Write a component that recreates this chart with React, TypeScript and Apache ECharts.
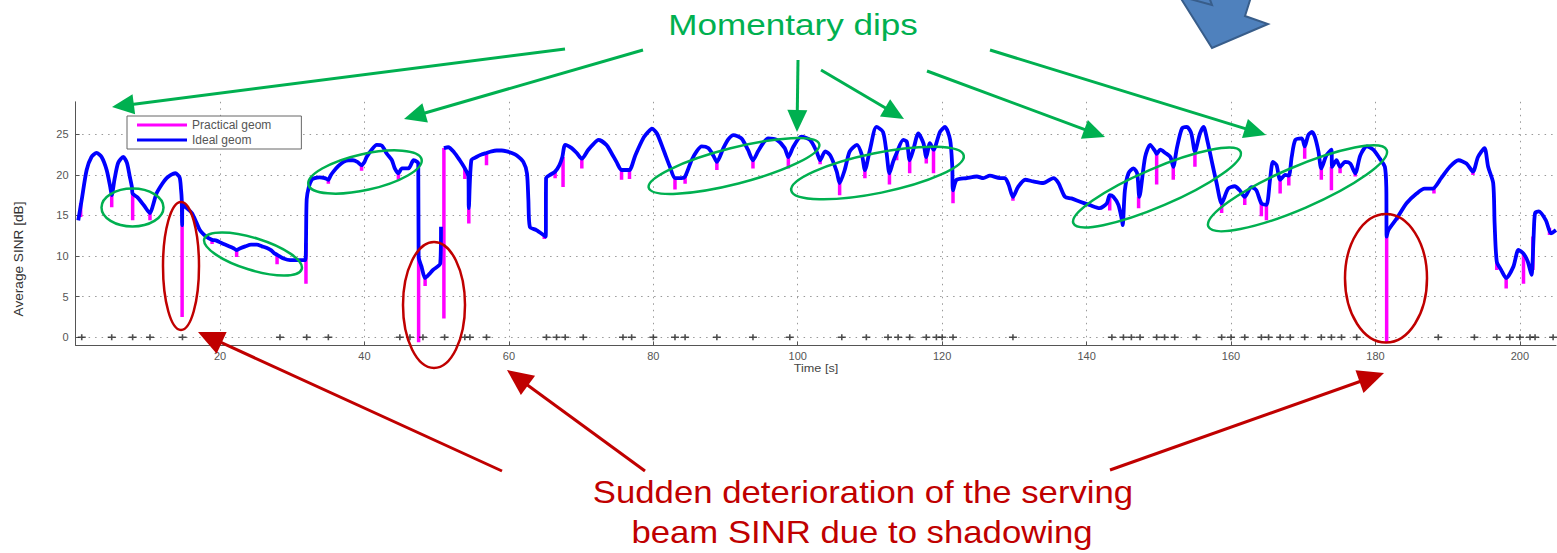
import React, { useEffect, useRef } from "react";
import * as echarts from "echarts";

// ---- Data ----
const xTickValues = [20, 40, 60, 80, 100, 120, 140, 160, 180, 200];
const yTickValues = [0, 5, 10, 15, 20, 25];

// Ideal geom SINR trace, time [s] / SINR [dB]
const idealSeg1: [number, number][] = [
  [0.37,14.4],[0.84,16.9],[1.53,20.6],[2.2,22.2],[2.9,22.7],[3.6,22.2],[4.3,20.6],[4.8,18.5],[5.0,17.5],[5.4,19.5],[5.9,21.5],[6.6,22.2],[7.1,21.5],[7.5,19.8],[7.8,18.5],[7.9,17.7],[8.6,17.2],[9.5,16.2],[10.3,15.3],[10.7,16.2],[11.2,17.7],[12.0,18.9],[12.6,19.6],[13.2,20.0],[13.8,20.2],[14.4,19.7],[14.6,18.2],[14.7,16.9],[14.75,13.8],[14.8,16.4],[15.4,15.9],[16.1,15.3],[16.7,14.2],[17.2,13.2],[17.8,12.6],[18.4,12.2],[18.9,12.0],[19.5,11.9],[20.2,11.6],[21.0,11.3],[21.8,11.0],[22.3,10.75],[22.9,11.0],[23.5,11.2],[24.3,11.4],[25.1,11.4],[25.8,11.2],[26.5,11.0],[27.1,10.7],[27.6,10.3],[28.2,10.0],[28.8,9.7],[29.7,9.5],[30.5,9.5],[31.3,9.5],[31.8,9.5],[31.9,11.6],[32.0,17.0],[32.3,18.5],[32.7,19.4],[33.1,19.6],[33.8,19.7],[34.5,19.6],[35.0,19.4],[35.3,19.9],[35.7,20.4],[36.4,21.1],[37.1,21.6],[37.8,21.8],[38.4,21.8],[39.0,21.6],[39.6,21.2],[40.0,21.6],[40.3,22.2],[41.0,23.1],[41.7,23.7],[42.4,23.6],[43.1,22.6],[43.8,21.8],[44.2,20.8],[44.7,20.2],[45.2,20.8],[46.1,20.8],[46.8,21.8],[47.3,21.6],[47.45,21.4],[47.5,9.9],[47.9,8.7],[48.4,7.3],[49.0,7.8],[49.5,8.3],[50.5,9.1],[50.6,13.6]
];
const idealSeg2: [number, number][] = [
  [51.0,23.3],[51.6,23.4],[52.4,22.8],[53.2,21.8],[53.9,20.8],[54.4,19.8],[54.45,15.9],[54.8,21.8],[55.5,22.2],[56.2,22.5],[56.9,22.7],[57.6,22.9],[58.3,23.0],[59.0,23.0],[59.7,22.9],[60.4,22.7],[61.1,22.4],[62.0,21.6],[62.5,20.2],[62.7,16.9],[62.9,13.6],[63.8,13.2],[64.8,12.6],[65.1,12.4],[65.15,19.6],[65.7,20.0],[66.4,20.4],[67.0,21.2],[67.4,22.2],[67.8,23.7],[68.7,23.3],[69.4,22.7],[70.1,22.0],[71.0,23.1],[71.7,23.8],[72.4,24.3],[73.5,23.7],[74.2,22.7],[74.9,21.6],[75.6,20.6],[76.3,20.6],[76.7,20.6],[77.5,22.4],[78.6,24.5],[79.3,25.3],[79.8,25.7],[80.5,25.1],[81.4,23.1],[82.3,21.0],[83.0,19.6],[83.9,19.6],[84.4,19.8],[85.3,21.8],[86.0,22.9],[86.7,23.5],[87.6,23.3],[88.3,22.4],[88.8,21.6],[89.7,23.3],[90.4,24.4],[91.1,24.9],[92.2,24.5],[93.1,23.1],[93.8,21.8],[94.5,22.9],[95.2,23.9],[95.9,24.5],[97.1,24.3],[98.2,23.3],[98.7,22.2],[99.4,23.5]
];
const idealSeg3: [number, number][] = [
  [100.5,24.7],[101.7,24.3],[102.6,22.9],[103.1,21.8],[103.8,22.9],[104.5,22.4],[105.4,20.4],[105.8,19.0],[106.5,20.6],[107.2,22.9],[108.2,23.7],[108.9,22.4],[109.3,20.6],[110.0,23.1],[110.9,25.9],[111.8,25.3],[112.3,22.7],[112.7,20.2],[113.2,21.6],[113.7,22.7],[114.6,24.3],[115.1,24.1],[115.5,21.8],[116.0,23.1],[116.7,25.1],[117.4,23.9],[117.8,22.2],[118.3,23.9],[118.8,23.1],[119.7,25.3],[120.4,25.9],[121.1,24.3],[121.4,21.0],[121.5,18.1],[122.0,19.4],[123.4,19.6],[124.8,19.8],[125.7,19.6],[126.6,19.9],[128.0,19.6],[128.7,19.6],[129.2,18.8],[129.8,17.3],[130.5,18.5],[131.5,19.4],[132.6,19.2],[134.0,19.0],[135.4,19.6],[136.1,19.0],[137.0,17.3],[137.9,17.1],[139.1,16.7],[140.4,16.3],[141.8,15.9],[142.8,16.5],[143.2,17.5],[143.7,17.3],[144.4,16.3],[144.9,14.4],[145.0,13.8],[145.3,18.1],[145.8,20.2],[146.5,20.8],[147.0,20.2],[147.3,17.3],[148.1,22.2],[148.8,23.7],[149.5,22.9]
];
const idealSeg4: [number, number][] = [
  [149.7,22.6],[150.2,23.1],[150.9,22.7],[151.6,22.2],[152.0,21.0],[152.5,23.3],[153.2,25.7],[153.9,25.9],[154.5,25.1],[155.0,22.9],[155.7,25.1],[156.2,25.9],[156.7,24.3],[157.4,21.4],[158.0,19.0],[158.7,16.5],[159.6,18.3],[160.5,18.6],[161.2,18.1],[161.9,17.3],[162.8,18.5],[163.5,18.1],[164.2,16.5],[164.9,16.3],[165.4,19.4],[165.8,21.6],[166.3,21.2],[166.8,19.4],[167.5,20.0],[168.0,19.9],[168.4,22.2],[168.9,24.3],[169.8,24.5],[170.2,23.5],[170.7,24.9],[171.2,25.3],[171.6,24.7],[172.1,22.9],[172.5,20.8],[173.2,22.4],[173.9,23.1],[174.0,21.0],[174.6,21.8],[175.1,21.0],[175.8,21.6],[176.5,21.4],[177.2,20.2],[177.9,22.4],[178.8,23.5],[179.7,23.1],[180.6,22.0],[181.3,21.0],[181.5,18.5],[181.55,12.4],[181.8,13.2],[183.0,14.7],[184.3,16.5],[185.7,17.7],[186.8,18.3],[187.9,18.3],[189.1,19.6],[190.3,21.0],[191.5,21.8],[192.6,21.4],[193.5,20.4],[194.2,22.2],[195.1,23.3],[195.6,21.0],[196.3,19.0],[196.5,14.0],[196.8,9.3],[197.4,8.3],[198.1,7.3],[199.1,8.7],[199.8,10.75],[200.5,10.3],[201.1,9.3],[201.6,7.7],[201.9,12.4],[202.1,15.3],[202.6,15.5],[203.6,14.4],[204.3,12.8],[205,13.2]
];

// Practical geom: dips below the ideal trace [time, from dB, down to dB]
const practicalDips: [number, number, number][] = [
  [0.7,16.5,14.8],[5.0,17.5,16.0],[7.9,17.7,14.4],[10.3,15.4,14.4],[14.75,13.8,2.5],[18.9,12.0,11.5],[22.3,10.75,9.9],[27.9,10.2,9.0],[31.9,11.6,6.6],[35.0,19.4,18.9],[39.6,21.2,20.5],[44.7,20.2,19.4],[47.5,9.9,-0.6],[48.4,7.3,6.3],[51.0,23.3,2.3],[53.9,20.8,19.5],[54.45,15.9,14.0],[56.9,22.7,21.2],[64.9,12.6,12.1],[66.4,20.4,19.6],[67.5,22.2,18.5],[70.1,22.0,20.8],[75.6,20.6,19.4],[76.7,20.6,19.5],[83.0,19.6,18.2],[84.4,19.8,18.9],[88.8,21.6,20.6],[93.8,21.8,20.8],[98.7,22.2,20.8],[103.1,21.8,21.3],[105.8,19.0,17.5],[109.3,20.6,19.6],[112.7,20.2,18.8],[113.7,22.7,21.8],[115.5,21.8,20.2],[117.8,22.2,21.4],[118.8,23.1,20.2],[121.5,18.1,16.5],[129.8,17.3,16.8],[143.2,17.5,15.6],[147.2,17.3,15.9],[149.7,22.6,18.8],[152.0,21.0,19.4],[155.0,22.9,21.0],[158.7,16.5,15.3],[161.9,17.3,16.3],[164.2,16.5,14.9],[164.9,16.3,14.4],[166.8,19.4,17.7],[168.0,19.9,18.7],[170.2,23.5,22.0],[172.5,20.8,19.4],[173.9,21.0,18.1],[175.1,21.0,20.2],[177.2,20.2,19.8],[181.55,12.4,-0.6],[183.0,14.9,14.4],[188.1,18.3,17.7],[193.5,20.4,20.0],[196.8,9.3,8.3],[198.1,7.3,6.0],[200.5,10.3,6.6],[201.8,12.4,8.3],[204.1,13.5,12.6]
];

// Beam switch events drawn as "+" on the 0 dB line
const beamSwitchTimes = [0.85,5.0,7.9,10.3,14.8,28.3,32.0,35.0,44.9,46.3,48.1,51.1,53.9,54.6,56.9,65.2,66.6,67.8,70.3,75.8,77.0,80.0,83.0,84.4,88.8,93.8,98.9,106.1,109.5,112.5,113.9,115.5,117.8,119.2,120.0,121.5,129.8,143.5,145.1,146.2,147.4,149.7,150.8,152.2,155.2,158.7,160.0,161.9,164.2,165.2,166.8,168.2,170.2,172.5,173.9,175.3,177.4,188.7,193.7,196.8,198.6,200.0,201.4,202.1,204.6];

const GREEN = "#00b050";
const RED = "#c00000";
const FONT = "Liberation Sans";

function arrow(x1: number, y1: number, x2: number, y2: number, color: string, lw: number, hl: number, hw: number) {
  const dx = x2 - x1, dy = y2 - y1;
  const L = Math.hypot(dx, dy);
  const ux = dx / L, uy = dy / L;
  const bx = x2 - ux * hl, by = y2 - uy * hl;
  const px = -uy, py = ux;
  return [
    { type: "line", z: 100, shape: { x1, y1, x2: bx + ux * 2, y2: by + uy * 2 }, style: { stroke: color, lineWidth: lw } },
    { type: "polygon", z: 100, shape: { points: [[x2, y2], [bx + px * hw, by + py * hw], [bx - px * hw, by - py * hw]] }, style: { fill: color } },
  ];
}

function ellipse(cx: number, cy: number, rx: number, ry: number, rot: number, color: string) {
  return { type: "ellipse", z: 100, x: cx, y: cy, rotation: rot, shape: { cx: 0, cy: 0, rx, ry }, style: { fill: "none", stroke: color, lineWidth: 2.5 } };
}

function label(text: string, x: number, y: number, size: number, color: string, scaleX = 1, rotation = 0) {
  return {
    type: "text", z: 100, x, y, scaleX, rotation,
    style: { text, fill: color, fontSize: size, fontFamily: FONT, align: "center", verticalAlign: "middle", textAlign: "center", textVerticalAlign: "middle" },
  };
}

export default function App() {
  const ref = useRef<HTMLDivElement>(null);
  useEffect(() => {
    const chart = echarts.init(ref.current!, null, { renderer: "svg" });
    const ideal: any[] = [...idealSeg1, [50.8, null], ...idealSeg2, ...idealSeg3, ...idealSeg4];
    const practical: any[] = [];
    practicalDips.forEach(([x, top, bottom]) => {
      practical.push([x, top], [x, bottom], [x, null]);
    });
    const events = beamSwitchTimes.map((t) => [t, 0]);

    const graphics: any[] = [
      label("Momentary dips", 793, 24, 30, GREEN, 1.17),
      label("Sudden deterioration of the serving", 863, 492, 31, RED, 1.12),
      label("beam SINR due to shadowing", 862, 532, 31, RED, 1.12),
      label("Average SINR [dB]", 19, 259, 13, "#333", 1.05, Math.PI / 2),
      label("Time [s]", 816, 368, 11, "#444", 1.15),
      ...arrow(565, 49, 112, 107, GREEN, 3, 22, 10),
      ...arrow(643, 50, 404, 119, GREEN, 3, 22, 10),
      ...arrow(798, 60, 797, 132, GREEN, 3, 22, 10),
      ...arrow(821, 70, 904, 119, GREEN, 3, 22, 10),
      ...arrow(927, 71, 1105, 137, GREEN, 3, 22, 10),
      ...arrow(990, 50, 1266, 135, GREEN, 3, 22, 10),
      ...arrow(502, 471, 198, 332, RED, 3, 26, 12),
      ...arrow(645, 471, 507, 370, RED, 3, 26, 12),
      ...arrow(1110, 470, 1384, 373, RED, 3, 26, 12),
      ellipse(132.5, 207.5, 31, 19, 0, GREEN),
      ellipse(253, 254, 51, 16, -0.3, GREEN),
      ellipse(365, 172, 58, 18, 0.22, GREEN),
      ellipse(734, 166, 88, 18, 0.25, GREEN),
      ellipse(877.5, 173, 88, 20, 0.2, GREEN),
      ellipse(1157, 187.5, 91, 19, 0.405, GREEN),
      ellipse(1297.5, 188.3, 97, 21, 0.406, GREEN),
      ellipse(181, 266, 18, 64, 0, RED),
      ellipse(434, 305, 31, 63, 0, RED),
      ellipse(1386, 278.3, 41, 64.3, 0, RED),
      {
        type: "polygon", z: 100,
        shape: { points: [[1180, -3], [1212, 48], [1268, 24], [1245, 16], [1251, -3]] },
        style: { fill: "#4f81bd", stroke: "#385d8a", lineWidth: 2 },
      },
      {
        type: "polyline", z: 101,
        shape: { points: [[1190, -1], [1212, 5], [1209, -3]] },
        style: { fill: "none", stroke: "#385d8a", lineWidth: 2 },
      },
    ];

    chart.setOption({
      animation: false,
      backgroundColor: "#ffffff",
      textStyle: { fontFamily: FONT },
      grid: { left: 75.6, right: 1, top: 101.8, bottom: 207.6, containLabel: false },
      legend: {
        data: [
          { name: "Practical geom", icon: "rect" },
          { name: "Ideal geom", icon: "rect" },
        ],
        orient: "vertical",
        left: 127,
        top: 116,
        itemWidth: 50,
        itemHeight: 3,
        itemGap: 3,
        padding: [3, 30, 3, 10],
        borderColor: "#666",
        borderWidth: 1,
        backgroundColor: "#fff",
        selectedMode: false,
        textStyle: { fontSize: 12, color: "#555", lineHeight: 12, fontFamily: FONT },
        z: 50,
      },
      xAxis: {
        type: "value",
        min: 0,
        max: 205,
        interval: 20,
        axisLine: { show: true, onZero: false, lineStyle: { color: "#555", width: 1 } },
        axisTick: { show: true, inside: true, length: 4, lineStyle: { color: "#555" } },
        axisLabel: {
          showMinLabel: false, showMaxLabel: false, color: "#555", fontSize: 11, margin: 5,
          formatter: (v: number) => (xTickValues.includes(v) ? String(v) : ""),
        },
        splitLine: { show: true, showMinLine: false, showMaxLine: false, lineStyle: { color: "#999", width: 1, type: [1.5, 5] } },
      },
      yAxis: {
        type: "value",
        min: -1,
        max: 29,
        axisLine: { show: true, onZero: false, lineStyle: { color: "#555", width: 1 } },
        axisTick: { show: true, inside: true, length: 4, lineStyle: { color: "#555" } },
        axisLabel: {
          showMinLabel: false, showMaxLabel: false, color: "#555", fontSize: 11, margin: 7,
          formatter: (v: number) => (yTickValues.includes(v) ? String(v) : ""),
        },
        splitLine: { show: true, showMinLine: false, showMaxLine: false, lineStyle: { color: "#999", width: 1, type: [1.5, 5] } },
      },
      series: [
        {
          name: "Practical geom",
          type: "line",
          data: practical,
          showSymbol: false,
          symbol: "none",
          connectNulls: false,
          lineStyle: { color: "#ff00ff", width: 3.5 },
          itemStyle: { color: "#ff00ff" },
          z: 3,
        },
        {
          name: "Ideal geom",
          type: "line",
          data: ideal,
          showSymbol: false,
          symbol: "none",
          connectNulls: false,
          smooth: 0.25,
          lineStyle: { color: "#0000ff", width: 3.8 },
          itemStyle: { color: "#0000ff" },
          z: 4,
        },
        {
          name: "events",
          type: "scatter",
          data: events,
          symbol: "path://M0,3 H8 V4.6 H0 Z M3.2,0.5 H4.8 V7.1 H3.2 Z",
          symbolSize: [8, 6],
          itemStyle: { color: "#222" },
          silent: true,
          z: 5,
        },
      ],
      graphic: { elements: graphics },
    });
    return () => chart.dispose();
  }, []);
  return <div ref={ref} style={{ position: "fixed", left: 0, top: 0, width: 1557, height: 553, background: "#fff" }} />;
}
